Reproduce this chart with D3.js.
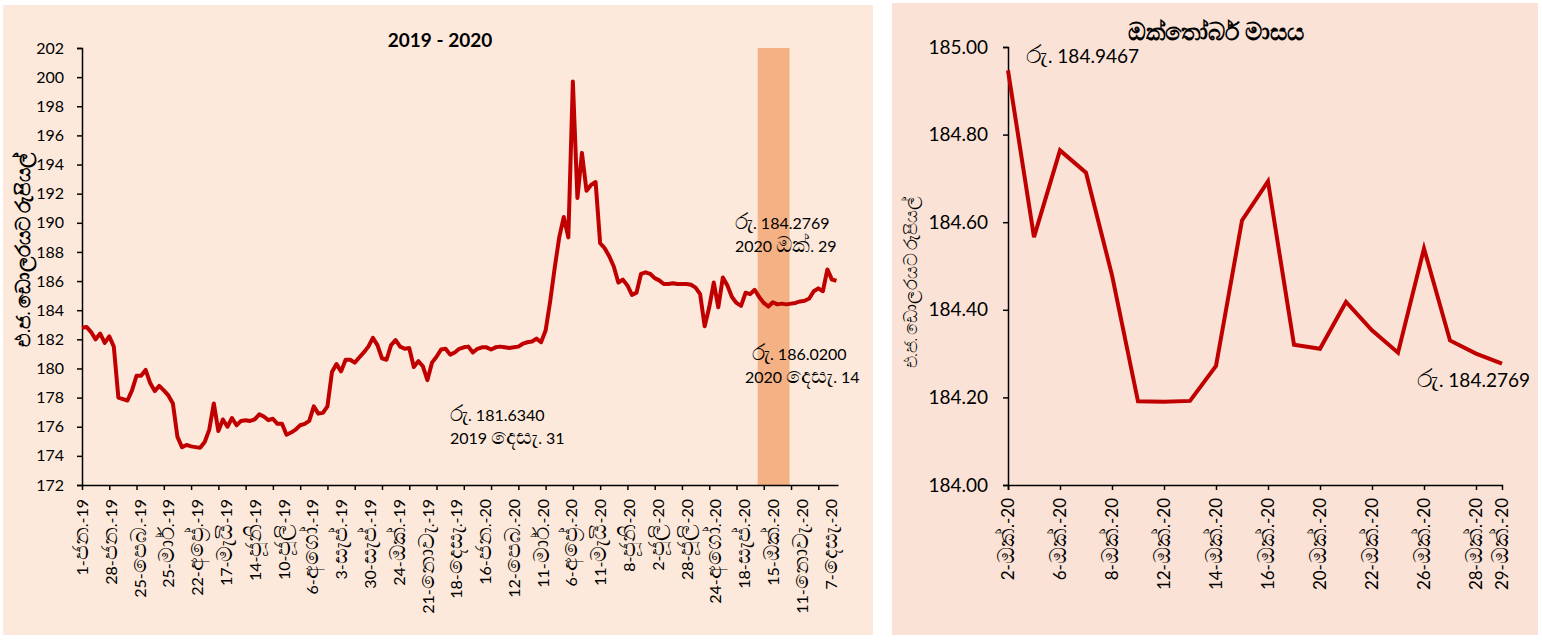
<!DOCTYPE html>
<html>
<head>
<meta charset="utf-8">
<script src="https://cdn.jsdelivr.net/npm/d3@7"></script>
<style>
  body { margin: 0; background: #fff; }
  text { font-family: Lato, "Noto Sans", sans-serif; fill: #000; }
</style>
</head>
<body>
<div class="visualization"></div>
<script>
// daily rate, sampled every 3rd trading day (1 Jan 2019 - 14 Dec 2020)
const STEP = 3;
const TOTAL_DAYS = 499;
const yearValues = [
  182.8, 182.85, 182.5, 182.0, 182.4, 181.75, 182.2, 181.5, 178.0, 177.9,
  177.8, 178.5, 179.5, 179.5, 179.9, 179.0, 178.45, 178.8, 178.5, 178.15,
  177.6, 175.3, 174.6, 174.75, 174.65, 174.6, 174.55, 174.95, 175.8, 177.6,
  175.7, 176.5, 176.0, 176.6, 176.1, 176.4, 176.45, 176.4, 176.5, 176.85,
  176.7, 176.45, 176.55, 176.2, 176.2, 175.45, 175.6, 175.8, 176.1, 176.2,
  176.4, 177.4, 176.9, 176.95, 177.4, 179.75, 180.3, 179.8, 180.6, 180.6,
  180.4, 180.75, 181.1, 181.5, 182.1, 181.6, 180.7, 180.6, 181.6, 181.95,
  181.5, 181.35, 181.4, 180.1, 180.5, 180.15, 179.2, 180.4, 180.8, 181.3,
  181.35, 180.95, 181.1, 181.35, 181.45, 181.5, 181.1, 181.35, 181.45, 181.45,
  181.3, 181.45, 181.5, 181.45, 181.4, 181.45, 181.5, 181.7, 181.8, 181.85,
  182.05, 181.8, 182.6, 184.6, 186.9, 189.0, 190.4, 189.0, 199.7, 191.7,
  194.8, 192.2, 192.6, 192.8, 188.6, 188.25, 187.7, 187.0, 185.9, 186.1,
  185.7, 185.05, 185.2, 186.5, 186.6, 186.5, 186.2, 186.05, 185.8, 185.8,
  185.85, 185.8, 185.8, 185.8, 185.75, 185.55, 185.1, 182.9, 184.2, 185.9,
  184.2, 186.25, 185.7, 184.9, 184.5, 184.3, 185.2, 185.1, 185.4, 184.9,
  184.5, 184.25, 184.55, 184.4, 184.45, 184.4, 184.45, 184.5, 184.6, 184.65,
  184.8, 185.3, 185.5, 185.3, 186.8, 186.1, 186.02
];
const yearTickLabels = [
  "1-ජන.-19", "28-ජන.-19", "25-පෙබ.-19", "25-මාර්.-19", "22-අප්‍රේ.-19",
  "17-මැයි-19", "14-ජූනි-19", "10-ජූලි-19", "6-අගෝ.-19", "3-සැප්.-19",
  "30-සැප්.-19", "24-ඔක්.-19", "21-නොවැ.-19", "18-දෙසැ.-19", "16-ජන.-20",
  "12-පෙබ.-20", "11-මාර්.-20", "6-අප්‍රේ.-20", "11-මැයි-20", "8-ජූනි-20",
  "2-ජූලි-20", "28-ජූලි-20", "24-අගෝ.-20", "18-සැප්.-20", "15-ඔක්.-20",
  "11-නොවැ.-20", "7-දෙසැ.-20"
];
const LABEL_EVERY = 19;   // trading days between labels
const TICK_EVERY = 18;    // trading days between tick marks
const octoberBand = [446, 467];  // trading-day range of October 2020

// October 2020
const octDays = [2, 5, 6, 7, 8, 9, 12, 13, 14, 15, 16, 19, 20, 21, 22, 23, 26, 27, 28, 29];
const octValues = [
  184.9467, 184.566, 184.764, 184.713, 184.479, 184.191, 184.190, 184.192, 184.272, 184.604,
  184.693, 184.320, 184.311, 184.418, 184.353, 184.302, 184.540, 184.330, 184.300, 184.2769
];

const yTitle = "එ.ජ. ඩොලරයට රුපියල්";
const SINHALA_SCALE = 1.35;

const svg = d3.select(".visualization").append("svg")
  .attr("width", 1542).attr("height", 640);

drawYearChart(svg);
drawOctoberChart(svg);

// the fallback Sinhala font draws small, so enlarge those runs
function enlargeSinhala(sel) {
  sel.each(function() {
    const t = d3.select(this);
    const s = t.text();
    t.text(null);
    s.split(/([\u0D80-\u0DFF\u200D]+)/).filter(p => p).forEach(p => {
      const span = t.append("tspan").text(p);
      if (/[\u0D80-\u0DFF]/.test(p)) span.style("font-size", SINHALA_SCALE + "em");
    });
  });
}

function drawYearChart(svg) {
  svg.append("rect").attr("x", 3).attr("y", 5).attr("width", 870).attr("height", 630)
    .attr("fill", "#FDE9DB");

  const x = d3.scaleLinear().domain([0, TOTAL_DAYS]).range([82, 838]);
  const y = d3.scaleLinear().domain([172, 202]).range([485, 48]);

  svg.append("rect")
    .attr("x", x(octoberBand[0])).attr("y", y(202))
    .attr("width", x(octoberBand[1]) - x(octoberBand[0]))
    .attr("height", y(172) - y(202))
    .attr("fill", "#F4B183");

  const yAxis = svg.append("g").attr("transform", "translate(82,0)")
    .call(d3.axisLeft(y).tickValues(d3.range(172, 203, 2)).tickSize(5).tickPadding(13));
  yAxis.selectAll("text").style("font-size", "16px");

  const xTicks = svg.append("g").attr("transform", "translate(0,485)")
    .call(d3.axisBottom(x).tickValues(d3.range(0, TOTAL_DAYS, TICK_EVERY)).tickSize(5).tickFormat(""));
  xTicks.select(".domain").remove();

  const xAxis = svg.append("g").attr("transform", "translate(0,485)")
    .call(d3.axisBottom(x)
      .tickValues(yearTickLabels.map((d, i) => i * LABEL_EVERY))
      .tickSize(0)
      .tickFormat((d, i) => yearTickLabels[i]));
  xAxis.selectAll("text")
    .style("font-size", "16px")
    .attr("text-anchor", "end")
    .attr("transform", "rotate(-90)")
    .attr("x", -14).attr("y", 0).attr("dy", "0.35em")
    .call(enlargeSinhala);

  svg.selectAll(".domain, .tick line").attr("stroke", "#000").attr("stroke-width", 1.5);

  const line = d3.line().x((d, i) => x(i * STEP)).y(d => y(d));
  svg.append("path").datum(yearValues)
    .attr("d", line)
    .attr("fill", "none")
    .attr("stroke", "#C00000")
    .attr("stroke-width", 4)
    .attr("stroke-linejoin", "round");

  svg.append("text").attr("x", 440).attr("y", 47).attr("text-anchor", "middle")
    .style("font-size", "19px").style("font-weight", "bold").text("2019 - 2020");

  svg.append("text").attr("transform", "translate(30,250) rotate(-90)")
    .attr("text-anchor", "middle")
    .style("font-size", "15px").style("font-weight", "bold").text(yTitle)
    .call(enlargeSinhala);

  const notes = [
    [735, 229, "රු. 184.2769"], [735, 252, "2020 ඔක්. 29"],
    [752, 360, "රු. 186.0200"], [745, 383, "2020 දෙසැ. 14"],
    [450, 421, "රු. 181.6340"], [450, 444, "2019 දෙසැ. 31"]
  ];
  svg.selectAll(".year-note").data(notes).enter().append("text")
    .attr("x", d => d[0]).attr("y", d => d[1])
    .style("font-size", "16px").text(d => d[2])
    .call(enlargeSinhala);
}

function drawOctoberChart(svg) {
  svg.append("rect").attr("x", 892).attr("y", 3).attr("width", 646).attr("height", 632)
    .attr("fill", "#FAE3D6");

  const x = d3.scalePoint().domain(d3.range(octDays.length)).range([1008, 1502]);
  const y = d3.scaleLinear().domain([184, 185]).range([485, 47]);

  const yAxis = svg.append("g").attr("transform", "translate(1008,0)")
    .call(d3.axisLeft(y).tickValues(d3.range(184, 185.01, 0.2)).tickFormat(d3.format(".2f"))
      .tickSize(5).tickPadding(15));
  yAxis.selectAll("text").style("font-size", "19px");

  const xAxis = svg.append("g").attr("transform", "translate(0,485)")
    .call(d3.axisBottom(x)
      .tickValues(d3.range(octDays.length).filter(i => i % 2 === 0 || i === octDays.length - 1))
      .tickSize(5)
      .tickFormat(i => octDays[i] + "-ඔක්.-20"));
  xAxis.selectAll(".tick").filter(i => i === octDays.length - 1).select("line").remove();
  xAxis.selectAll("text")
    .style("font-size", "17px")
    .attr("text-anchor", "end")
    .attr("transform", "rotate(-90)")
    .attr("x", -13).attr("y", 0).attr("dy", "0.35em")
    .call(enlargeSinhala);

  svg.selectAll(".domain, .tick line").attr("stroke", "#000").attr("stroke-width", 1.5);

  const line = d3.line().x((d, i) => x(i)).y(d => y(d));
  svg.append("path").datum(octValues)
    .attr("d", line)
    .attr("fill", "none")
    .attr("stroke", "#C00000")
    .attr("stroke-width", 4)
    .attr("stroke-linejoin", "miter");

  svg.append("text").attr("x", 1216).attr("y", 40).attr("text-anchor", "middle")
    .style("font-size", "18px").style("font-weight", "bold").text("ඔක්තෝබර් මාසය")
    .call(enlargeSinhala);

  svg.append("text").attr("transform", "translate(917,282) rotate(-90)")
    .attr("text-anchor", "middle")
    .style("font-size", "13px").text(yTitle)
    .call(enlargeSinhala);

  svg.append("text").attr("x", 1026).attr("y", 63).style("font-size", "19px").text("රු. 184.9467")
    .call(enlargeSinhala);
  svg.append("text").attr("x", 1417).attr("y", 387).style("font-size", "19px").text("රු. 184.2769")
    .call(enlargeSinhala);
}
</script>
</body>
</html>
